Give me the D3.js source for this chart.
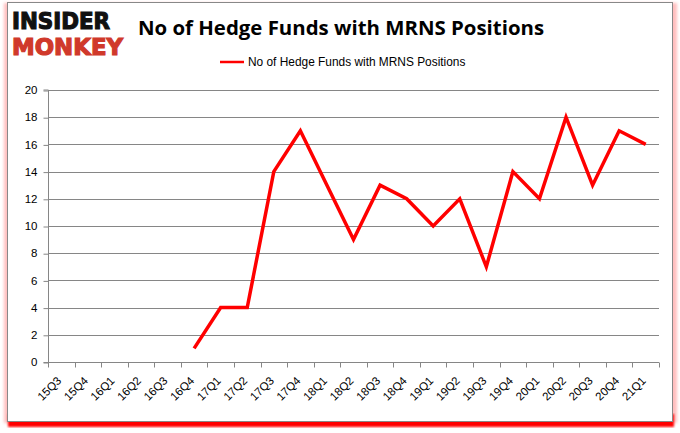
<!DOCTYPE html>
<html><head><meta charset="utf-8">
<script src="https://cdn.jsdelivr.net/npm/d3@7/dist/d3.min.js"></script>
<style>body{margin:0;background:#fff}svg{display:block}</style>
</head><body>
<svg id="c" width="680" height="433"></svg>
<script>
const categories = ["15Q3","15Q4","16Q1","16Q2","16Q3","16Q4","17Q1","17Q2","17Q3","17Q4","18Q1","18Q2","18Q3","18Q4","19Q1","19Q2","19Q3","19Q4","20Q1","20Q2","20Q3","20Q4","21Q1"];
const values = [null,null,null,null,null,1,4,4,14,17,13,9,13,12,10,12,7,14,12,18,13,17,16];
const yTicks = [0,2,4,6,8,10,12,14,16,18,20];
const title = "No of Hedge Funds with MRNS Positions";
const seriesName = "No of Hedge Funds with MRNS Positions";

const svg = d3.select("#c");
const defs = svg.append("defs");
const f = defs.append("filter").attr("id","glow").attr("x","-5%").attr("y","-5%").attr("width","110%").attr("height","110%");
f.append("feGaussianBlur").attr("stdDeviation",1.2);
const f2 = defs.append("filter").attr("id","glow2").attr("x","-5%").attr("y","-5%").attr("width","110%").attr("height","110%");
f2.append("feGaussianBlur").attr("stdDeviation",1.5);

// shadow / frame
svg.append("rect").attr("x",4).attr("y",3).attr("width",673).attr("height",420).attr("fill","#ff8080").attr("opacity",0.5).attr("filter","url(#glow2)");
svg.append("rect").attr("x",8).attr("y",414).attr("width",666).attr("height",13).attr("fill","#ff0000").attr("filter","url(#glow)");
svg.append("rect").attr("x",7.5).attr("y",2.5).attr("width",665).attr("height",419).attr("fill","#fff").attr("stroke","#888").attr("stroke-width",1);

const m = {l:48, r:659, t:90, b:362};
const x = d3.scaleBand().domain(categories).range([m.l, m.r]);
const y = d3.scaleLinear().domain([0,20]).range([m.b, m.t]);

// gridlines
svg.append("g").selectAll("line").data(yTicks.filter(d=>d>0)).join("line")
  .attr("x1",m.l).attr("x2",m.r).attr("y1",d=>Math.round(y(d))+0.5).attr("y2",d=>Math.round(y(d))+0.5)
  .attr("stroke","#868686").attr("stroke-width",1);

// y axis
const ya = svg.append("g").attr("transform",`translate(${m.l+0.5},0)`)
  .call(d3.axisLeft(y).tickValues(yTicks).tickSize(5).tickPadding(6).tickFormat(d3.format("d")));
ya.select(".domain").attr("stroke","#868686").attr("d",`M-5,${m.b+0.5}H0V${m.t}H-5`);
ya.selectAll(".tick line").attr("stroke","#868686").attr("transform","translate(0,0.5)");
ya.selectAll("text").attr("font-family","Liberation Sans, Arial, sans-serif").attr("font-size",11.5).attr("fill","#000");

// x axis
const xa = svg.append("g").attr("transform",`translate(0,${m.b+0.5})`);
xa.append("line").attr("x1",m.l).attr("x2",m.r).attr("stroke","#868686");
const edges = categories.map(c=>x(c)).concat([m.r]);
xa.selectAll("line.t").data(edges).join("line").attr("class","t")
  .attr("x1",d=>Math.round(d)+0.5).attr("x2",d=>Math.round(d)+0.5).attr("y1",0).attr("y2",5).attr("stroke","#868686");
xa.selectAll("text").data(categories).join("text")
  .attr("transform",d=>`translate(${x(d)+x.bandwidth()/2-2},16) rotate(-45)`)
  .attr("text-anchor","end").attr("dy","0.35em")
  .attr("font-family","Liberation Sans, Arial, sans-serif").attr("font-size",11.5).attr("fill","#000")
  .text(d=>d);

// line
const line = d3.line().defined(d=>d.v!==null).x(d=>x(d.c)+x.bandwidth()/2).y(d=>y(d.v));
svg.append("path").datum(categories.map((c,i)=>({c,v:values[i]})))
  .attr("d",line).attr("fill","none").attr("stroke","#ff0000").attr("stroke-width",3.5).attr("stroke-linejoin","miter");

// title
svg.append("text").attr("x",341).attr("y",35).attr("text-anchor","middle")
  .attr("font-family","Open Sans, sans-serif").attr("font-weight","bold").attr("font-size",20.4).text(title);

// legend
svg.append("line").attr("x1",220).attr("x2",244).attr("y1",62).attr("y2",62).attr("stroke","#ff0000").attr("stroke-width",2.5);
svg.append("text").attr("x",248).attr("y",66).attr("font-family","Liberation Sans, Arial, sans-serif").attr("font-size",11.9).text(seriesName);

// logo
svg.append("text").attr("x",12).attr("y",28.5).attr("font-family","DejaVu Sans, sans-serif").attr("font-weight","900").attr("font-size",22.5)
  .attr("textLength",98).attr("lengthAdjust","spacingAndGlyphs").attr("fill","#111").attr("stroke","#111").attr("stroke-width",1.2).text("INSIDER");
svg.append("text").attr("x",12).attr("y",55).attr("font-family","DejaVu Sans, sans-serif").attr("font-weight","900").attr("font-size",22.5)
  .attr("textLength",111).attr("lengthAdjust","spacingAndGlyphs").attr("fill","#d0392b").attr("stroke","#d0392b").attr("stroke-width",1.2).text("MONKEY");
</script>
</body></html>
